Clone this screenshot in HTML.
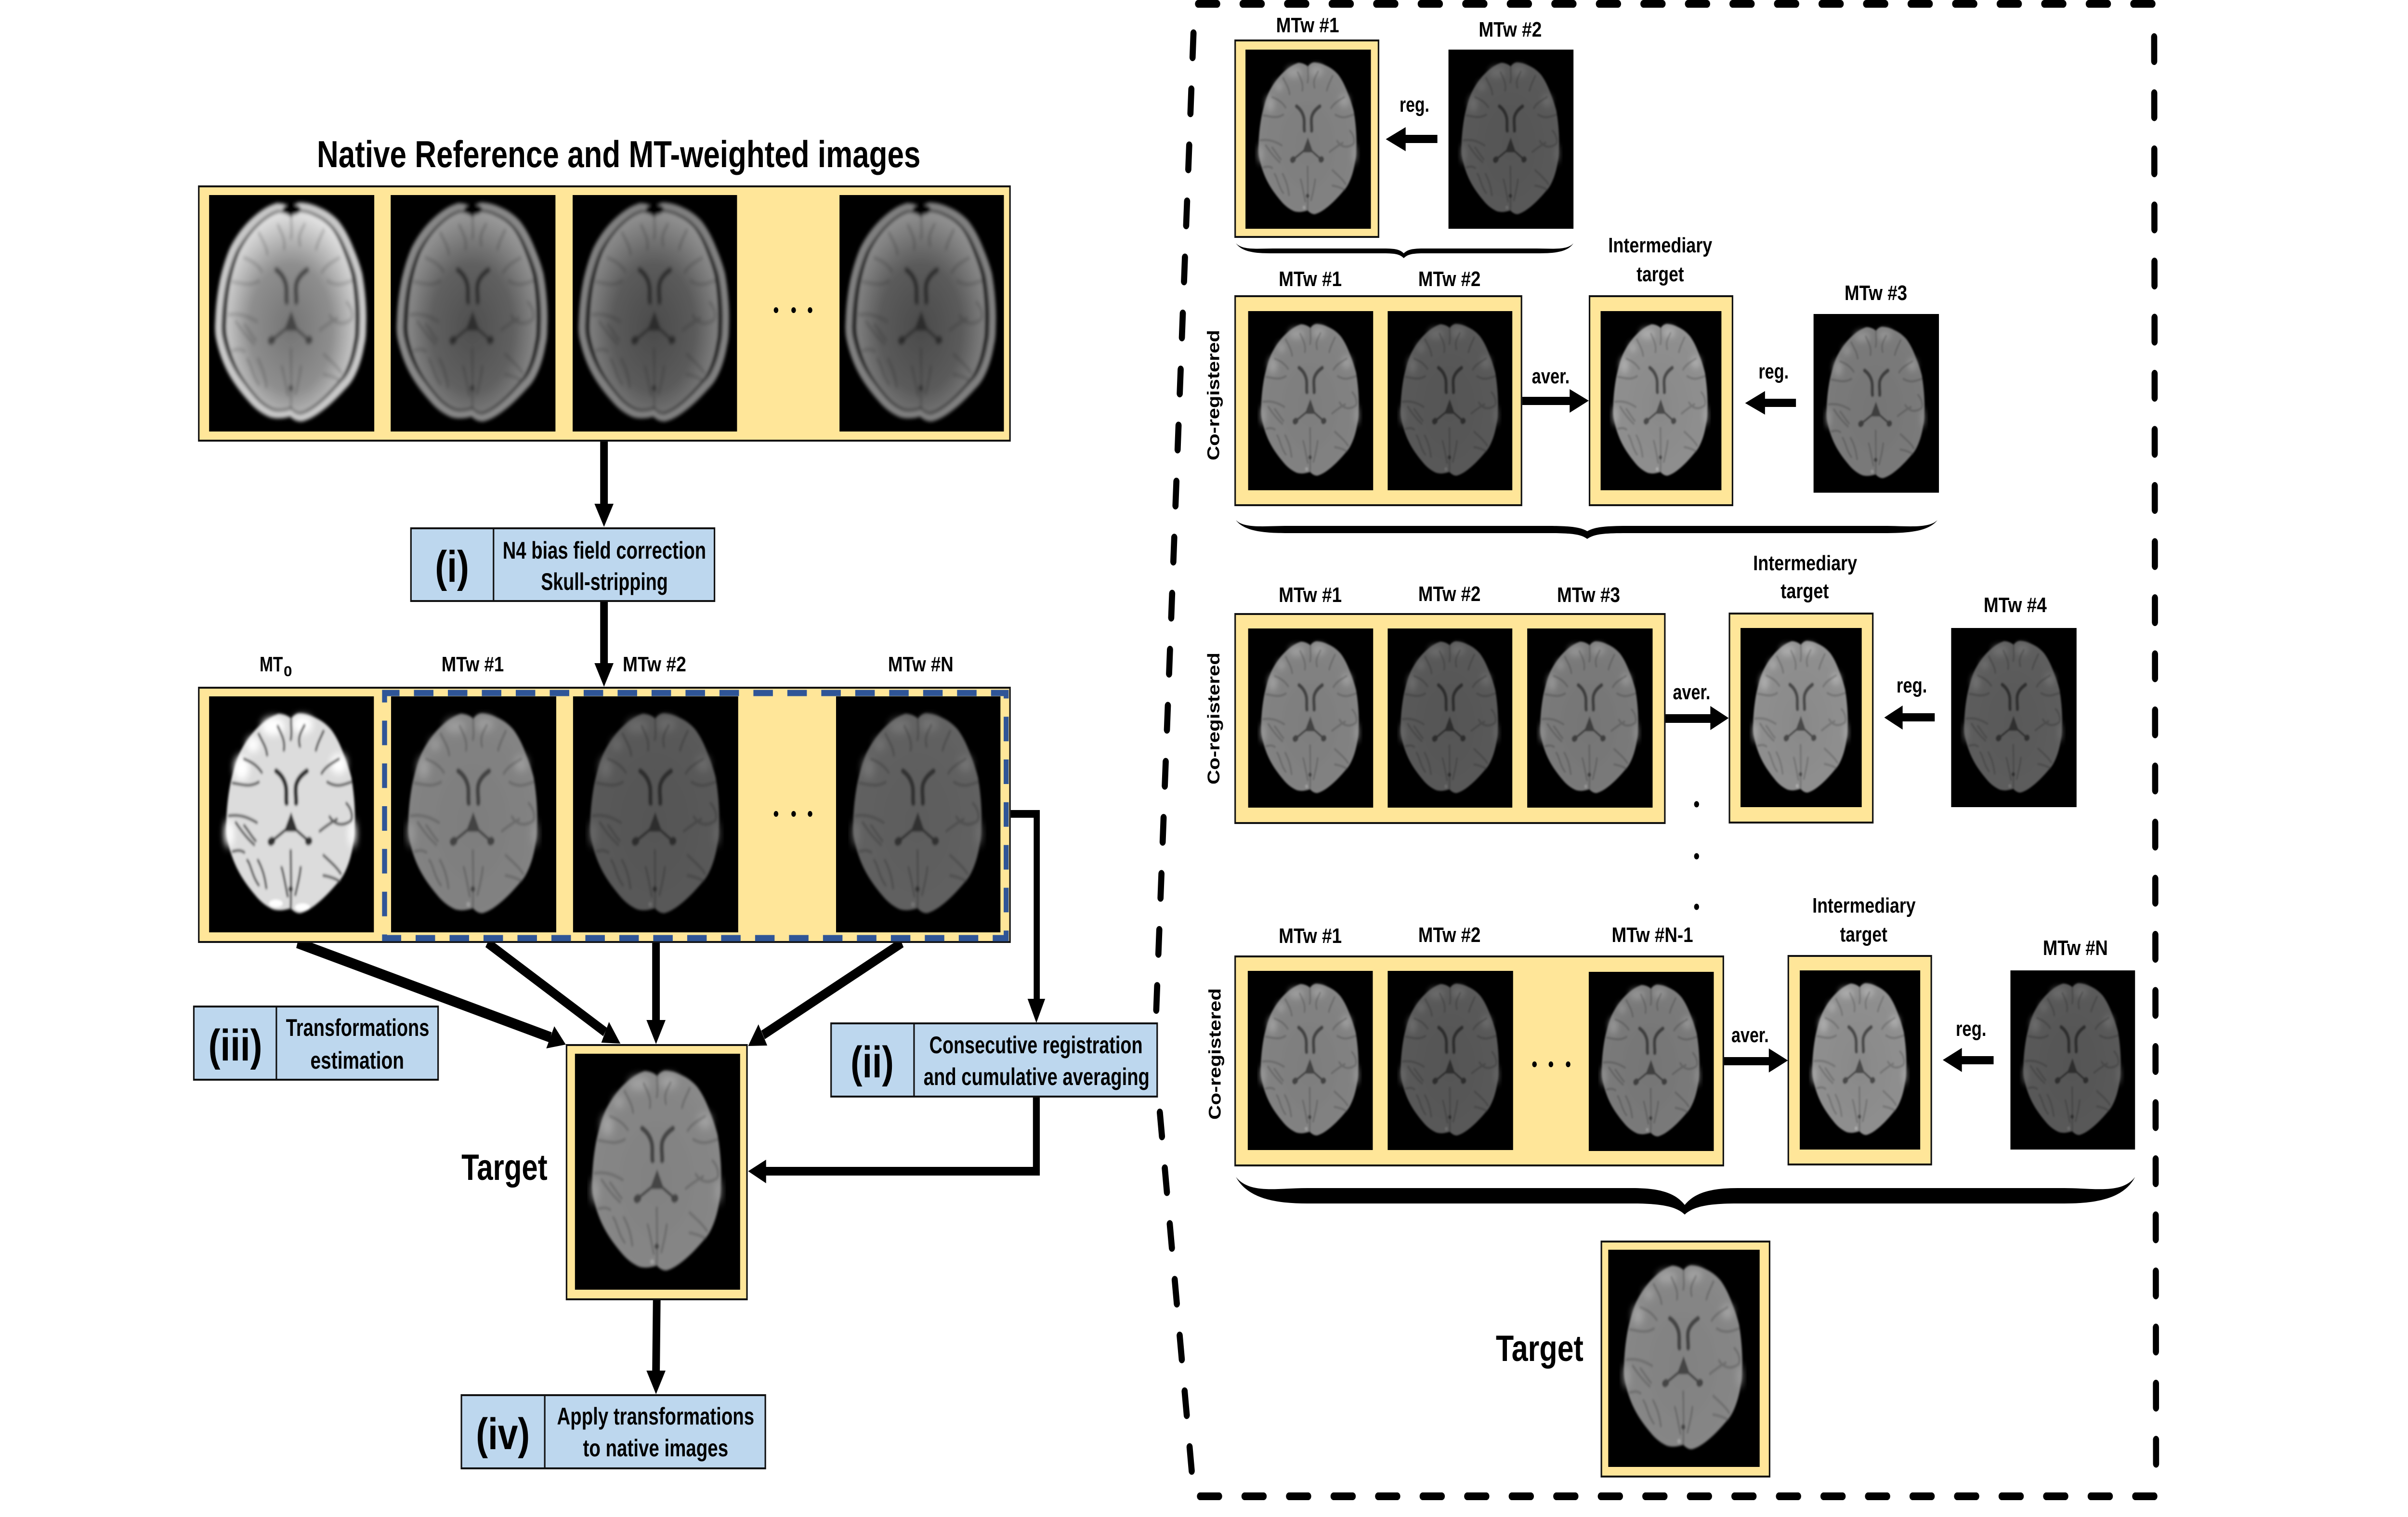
<!DOCTYPE html>
<html>
<head>
<meta charset="utf-8">
<style>
html,body{margin:0;padding:0;background:#fff;width:100%;height:100%;overflow:hidden}
svg{display:block;width:100vw;height:100vh}
text{font-family:"Liberation Sans",sans-serif;font-weight:bold;fill:#000;font-size:44px}
.t52{font-size:50px}
.p{font-size:92px}
.f{fill:#FFE699;stroke:#111;stroke-width:4}
.b{fill:#BDD7EE;stroke:#111;stroke-width:4}
.d{stroke:#111;stroke-width:4}
</style>
</head>
<body>
<svg viewBox="0 0 6299 3150" preserveAspectRatio="none" xmlns="http://www.w3.org/2000/svg">
<defs>
<filter id="bl" x="-10%" y="-10%" width="120%" height="120%"><feGaussianBlur stdDeviation="2.6"/></filter>
<filter id="bl2" x="-30%" y="-30%" width="160%" height="160%"><feGaussianBlur stdDeviation="9"/></filter>
<filter id="bl3" x="-10%" y="-10%" width="120%" height="120%"><feGaussianBlur stdDeviation="4"/></filter>
<radialGradient id="gb" cx=".5" cy=".55" r=".6"><stop offset="0" stop-color="#cacaca"/><stop offset=".75" stop-color="#d2d2d2"/><stop offset="1" stop-color="#dadada"/></radialGradient>
<radialGradient id="gn" cx=".5" cy=".58" r=".58"><stop offset="0" stop-color="#747474"/><stop offset=".55" stop-color="#8e8e8e"/><stop offset="1" stop-color="#e2e2e2"/></radialGradient>
<path id="out" d="M215 46C222 38 232 34 240 35C255 36 266 39 278 44C295 50 308 58 320 69C335 85 345 103 354 122C362 138 368 152 373 168C380 200 384 240 382 272C382 285 381 296 378 306C374 326 368 344 359 360C353 371 346 380 337 387C322 401 307 414 291 425C275 436 258 446 240 450C230 451 221 446 214 440C198 444 182 446 167 442C150 436 134 426 121 413C104 397 88 380 75 360C62 340 52 316 46 291C44 280 44 270 45 260C46 232 50 205 56 180C62 158 69 138 79 119C92 98 110 77 132 61C148 49 165 40 182 36C195 36 207 40 215 46Z"/>
<g id="sul" fill="none" stroke="#333" stroke-width="6" stroke-linecap="round">
<path d="M215 48C214 60 218 75 214 90M180 62C190 80 200 92 196 112M250 60C240 76 232 84 238 104"/>
<path d="M130 78C140 95 150 105 152 122M300 72C290 90 284 98 280 112M92 130C110 136 125 142 138 158M340 130C320 140 305 146 295 160"/>
<path d="M62 180C85 182 105 190 130 178M372 178C350 184 335 190 310 178"/>
<path d="M52 248C80 245 100 250 125 262M70 262C85 280 100 295 118 308M92 268C104 280 112 292 122 300"/>
<path d="M316 250C330 268 352 270 372 258C378 248 372 232 360 222M290 280C305 270 320 262 335 255"/>
<path d="M62 322C72 320 82 318 92 324M100 340C110 350 112 372 130 392M128 340C138 355 146 372 150 398"/>
<path d="M300 330C320 345 335 355 345 368M300 372C315 374 330 378 342 384"/>
<path d="M214 320C214 350 216 380 214 440M190 355C196 370 200 392 206 415M240 355C238 372 232 392 226 412"/>
</g>
<g id="ven">
<g fill="none" stroke="currentColor" stroke-linecap="round">
<path stroke-width="11" d="M176 155C188 162 197 172 201 186C204 198 201 210 203 222"/>
<path stroke-width="11" d="M256 155C244 162 233 170 228 184C225 198 229 210 228 222"/>
<path stroke-width="6" d="M165 300C178 292 190 284 202 276M261 300C248 292 238 284 226 276"/>
<path stroke-width="17" d="M162 302L165 300M262 300L260 301"/>
</g>
<path d="M215 240L196 281L233 281Z" fill="currentColor"/>
<circle cx="214" cy="400" r="6" fill="currentColor"/>
</g>
<g id="pat" filter="url(#bl2)" fill="#fff">
<ellipse cx="168" cy="62" rx="28" ry="14"/><ellipse cx="245" cy="58" rx="24" ry="14"/>
<ellipse cx="115" cy="100" rx="14" ry="12"/><ellipse cx="85" cy="148" rx="16" ry="22"/><ellipse cx="340" cy="140" rx="18" ry="16"/>
<ellipse cx="52" cy="285" rx="8" ry="26"/><ellipse cx="376" cy="285" rx="6" ry="26"/>
</g>
<symbol id="m0" viewBox="0 0 432 490" preserveAspectRatio="none">
<g filter="url(#bl)" style="color:#303030">
<use href="#out" fill="#dcdcdc"/>
<use href="#pat"/><use href="#pat"/>
<ellipse cx="175" cy="430" rx="18" ry="8" fill="#fff"/><ellipse cx="245" cy="438" rx="20" ry="8" fill="#fff"/>
<g opacity=".75"><use href="#sul"/></g>
<use href="#ven"/>
</g>
</symbol>
<symbol id="m" viewBox="0 0 432 490" preserveAspectRatio="none">
<g filter="url(#bl)" style="color:#6c6c6c">
<use href="#out" fill="url(#gb)"/>
<use href="#pat"/>
<g opacity=".22"><use href="#sul"/></g>
<use href="#ven"/>
<circle cx="202" cy="432" r="5" fill="#fff"/>
</g>
</symbol>
<symbol id="n" viewBox="0 0 432 490" preserveAspectRatio="none">
<g filter="url(#bl3)" style="color:#444">
<g transform="translate(214 245) scale(1.115 1.05) translate(-214 -245)"><use href="#out" fill="none" stroke="#c8c8c8" stroke-width="17"/></g>
<g transform="translate(214 245) scale(1.04 1.02) translate(-214 -245)"><use href="#out" fill="#060606"/></g>
<use href="#out" fill="url(#gn)"/>
<g opacity=".25"><use href="#sul"/></g>
<use href="#ven"/>
<ellipse cx="216" cy="30" rx="24" ry="11" fill="#000"/>
</g>
</symbol>
</defs>

<rect width="6299" height="3150" fill="#fff"/>

<!-- big dashed frame -->
<g fill="none" stroke="#000" stroke-width="16" stroke-linecap="round" stroke-dasharray="50 66.5">
<path d="M3134 8H5640"/>
<path d="M3139 3107H5648"/>
<path d="M5635 77L5640 3060"/>
<path d="M3122 69L3024 2110"/>
<path d="M3034 2310L3118 3060"/>
</g>

<!-- left arrows -->
<g stroke="#000" fill="none">
<path d="M1580 916V1050" stroke-width="20"/>
<path d="M1580 1250V1380" stroke-width="20"/>
<path d="M778 1958L1440 2154" stroke-width="22"/>
<path d="M1275 1958L1583 2143" stroke-width="20"/>
<path d="M1716 1958V2122" stroke-width="20"/>
<path d="M2359 1958L1996 2149" stroke-width="20"/>
<path d="M1718 2699L1716 2850" stroke-width="20"/>
<path d="M2644 1690H2712V2074" stroke-width="16"/>
<path d="M2711 2279V2432H2000" stroke-width="18"/>
</g>
<g fill="#000">
<polygon points="1555,1046 1605,1046 1580,1094"/>
<polygon points="1555,1377 1605,1377 1580,1426"/>
<polygon points="1429,2177 1450,2131 1480,2169"/>
<polygon points="1573,2165 1593,2122 1623,2167"/>
<polygon points="1691,2118 1741,2118 1716,2168"/>
<polygon points="2007,2171 1984,2127 1957,2172"/>
<polygon points="1691,2846 1741,2846 1716,2895"/>
<polygon points="2688,2074 2734,2074 2711,2124"/>
<polygon points="2004,2408 2004,2457 1957,2432"/>
</g>

<!-- left frames -->
<rect class="f" x="520" y="387" width="2122" height="528"/>
<rect class="f" x="520" y="1428" width="2122" height="528"/>
<rect class="f" x="1482" y="2170" width="472" height="528"/>

<rect x="547" y="405" width="432" height="491"/><use href="#n" x="547" y="405" width="432" height="491"/>
<rect x="1022" y="405" width="431" height="491"/><use href="#n" x="1022" y="405" width="431" height="491" opacity=".68"/>
<rect x="1498" y="405" width="430" height="491"/><use href="#n" x="1498" y="405" width="430" height="491" opacity=".64"/>
<rect x="2196" y="405" width="430" height="491"/><use href="#n" x="2196" y="405" width="430" height="491" opacity=".64"/>

<rect x="547" y="1446" width="431" height="490"/><use href="#m0" x="547" y="1446" width="431" height="490"/>
<rect x="1023" y="1446" width="432" height="490"/><use href="#m" x="1023" y="1446" width="432" height="490" opacity=".62"/>
<rect x="1499" y="1446" width="432" height="490"/><use href="#m" x="1499" y="1446" width="432" height="490" opacity=".42"/>
<rect x="2187" y="1446" width="430" height="490"/><use href="#m" x="2187" y="1446" width="430" height="490" opacity=".46"/>
<rect x="1504" y="2188" width="432" height="490"/><use href="#m" x="1504" y="2188" width="432" height="490" opacity=".64"/>

<g fill="#000">
<circle cx="2030" cy="644" r="6"/><circle cx="2076" cy="644" r="6"/><circle cx="2119" cy="644" r="6"/>
<circle cx="2030" cy="1690" r="6"/><circle cx="2076" cy="1690" r="6"/><circle cx="2119" cy="1690" r="6"/>
</g>

<rect x="1006" y="1439" width="1626" height="509" fill="none" stroke="#2F5597" stroke-width="13" stroke-dasharray="51 37.8" stroke-dashoffset="12"/>

<!-- left text -->
<text x="829" y="347" style="font-size:78px" textLength="1579" lengthAdjust="spacingAndGlyphs">Native Reference and MT-weighted images</text>
<text x="679" y="1394" textLength="61" lengthAdjust="spacingAndGlyphs">MT</text>
<text x="742" y="1404" style="font-size:30px" textLength="22" lengthAdjust="spacingAndGlyphs">0</text>
<text x="1155" y="1394" textLength="163" lengthAdjust="spacingAndGlyphs">MTw #1</text>
<text x="1629" y="1394" textLength="166" lengthAdjust="spacingAndGlyphs">MTw #2</text>
<text x="2323" y="1394" textLength="171" lengthAdjust="spacingAndGlyphs">MTw #N</text>
<text x="1207" y="2450" style="font-size:76px" textLength="225" lengthAdjust="spacingAndGlyphs">Target</text>

<!-- label boxes -->
<rect class="b" x="1075" y="1097" width="794" height="151"/><path class="d" d="M1291 1097V1248"/>
<text class="p" x="1138" y="1208" textLength="89" lengthAdjust="spacingAndGlyphs">(i)</text>
<text class="t52" x="1315" y="1160" textLength="532" lengthAdjust="spacingAndGlyphs">N4 bias field correction</text>
<text class="t52" x="1415" y="1225" textLength="332" lengthAdjust="spacingAndGlyphs">Skull-stripping</text>

<rect class="b" x="2174" y="2125" width="853" height="152"/><path class="d" d="M2391 2125V2277"/>
<text class="p" x="2225" y="2237" textLength="113" lengthAdjust="spacingAndGlyphs">(ii)</text>
<text class="t52" x="2431" y="2187" textLength="558" lengthAdjust="spacingAndGlyphs">Consecutive registration</text>
<text class="t52" x="2416" y="2253" textLength="591" lengthAdjust="spacingAndGlyphs">and cumulative averaging</text>

<rect class="b" x="507" y="2090" width="639" height="152"/><path class="d" d="M723 2090V2242"/>
<text class="p" x="545" y="2202" textLength="141" lengthAdjust="spacingAndGlyphs">(iii)</text>
<text class="t52" x="748" y="2151" textLength="375" lengthAdjust="spacingAndGlyphs">Transformations</text>
<text class="t52" x="812" y="2219" textLength="245" lengthAdjust="spacingAndGlyphs">estimation</text>

<rect class="b" x="1207" y="2897" width="795" height="152"/><path class="d" d="M1425 2897V3049"/>
<text class="p" x="1245" y="3009" textLength="141" lengthAdjust="spacingAndGlyphs">(iv)</text>
<text class="t52" x="1457" y="2958" textLength="516" lengthAdjust="spacingAndGlyphs">Apply transformations</text>
<text class="t52" x="1525" y="3024" textLength="380" lengthAdjust="spacingAndGlyphs">to native images</text>

<!-- right row 1 -->
<rect class="f" x="3231" y="84" width="375" height="408"/>
<rect x="3258" y="103" width="328" height="372"/><use href="#m" x="3258" y="103" width="328" height="372" opacity=".62"/>
<rect x="3789" y="103" width="327" height="372"/><use href="#m" x="3789" y="103" width="327" height="372" opacity=".42"/>
<text x="3338" y="67" textLength="165" lengthAdjust="spacingAndGlyphs">MTw #1</text>
<text x="3868" y="76" textLength="165" lengthAdjust="spacingAndGlyphs">MTw #2</text>
<text x="3661" y="232" textLength="78" lengthAdjust="spacingAndGlyphs">reg.</text>
<polygon points="3760,280 3677,280 3677,264 3625,289 3677,314 3677,297 3760,297"/>
<path d="M3233 505C3250 520 3290 516 3330 516L3620 516C3650 516 3662 518 3672 526C3682 518 3695 516 3725 516L4020 516C4060 516 4100 520 4116 505C4100 525 4060 526 4020 526L3725 526C3695 526 3682 528 3672 536C3662 528 3650 526 3620 526L3330 526C3290 526 3250 525 3233 505Z"/>

<!-- right row 2 -->
<rect class="f" x="3231" y="615" width="749" height="434"/>
<rect x="3265" y="646" width="327" height="372"/><use href="#m" x="3265" y="646" width="327" height="372" opacity=".62"/>
<rect x="3630" y="646" width="326" height="372"/><use href="#m" x="3630" y="646" width="326" height="372" opacity=".42"/>
<rect class="f" x="4158" y="615" width="374" height="434"/>
<rect x="4187" y="646" width="316" height="372"/><use href="#m" x="4187" y="646" width="316" height="372" opacity=".68"/>
<rect x="4744" y="652" width="328" height="371"/><use href="#m" x="4744" y="652" width="328" height="371" opacity=".58"/>
<text x="3345" y="594" textLength="165" lengthAdjust="spacingAndGlyphs">MTw #1</text>
<text x="3710" y="594" textLength="163" lengthAdjust="spacingAndGlyphs">MTw #2</text>
<text x="4207" y="524" textLength="272" lengthAdjust="spacingAndGlyphs">Intermediary</text>
<text x="4281" y="584" textLength="124" lengthAdjust="spacingAndGlyphs">target</text>
<text x="4825" y="623" textLength="164" lengthAdjust="spacingAndGlyphs">MTw #3</text>
<text x="4007" y="796" textLength="99" lengthAdjust="spacingAndGlyphs">aver.</text>
<text x="4600" y="786" textLength="79" lengthAdjust="spacingAndGlyphs">reg.</text>
<polygon points="3982,824 4106,824 4106,808 4156,832 4106,857 4106,841 3982,841"/>
<polygon points="4698,828 4617,828 4617,812 4565,837 4617,861 4617,845 4698,845"/>
<text transform="translate(3189,956) rotate(-90)" textLength="271" lengthAdjust="spacingAndGlyphs">Co-registered</text>
<path d="M3233 1080C3255 1098 3310 1092 3370 1092L4050 1092C4110 1092 4135 1095 4152 1103C4170 1095 4195 1092 4255 1092L4930 1092C4990 1092 5045 1098 5068 1080C5045 1104 4990 1107 4930 1107L4255 1107C4195 1107 4170 1109 4152 1119C4135 1109 4110 1107 4050 1107L3370 1107C3310 1107 3255 1104 3233 1080Z"/>

<!-- right row 3 -->
<rect class="f" x="3231" y="1275" width="1124" height="434"/>
<rect x="3265" y="1305" width="327" height="372"/><use href="#m" x="3265" y="1305" width="327" height="372" opacity=".62"/>
<rect x="3630" y="1305" width="326" height="372"/><use href="#m" x="3630" y="1305" width="326" height="372" opacity=".42"/>
<rect x="3995" y="1305" width="328" height="372"/><use href="#m" x="3995" y="1305" width="328" height="372" opacity=".58"/>
<rect class="f" x="4524" y="1274" width="375" height="434"/>
<rect x="4553" y="1304" width="317" height="372"/><use href="#m" x="4553" y="1304" width="317" height="372" opacity=".68"/>
<rect x="5104" y="1304" width="328" height="372"/><use href="#m" x="5104" y="1304" width="328" height="372" opacity=".44"/>
<text x="3345" y="1250" textLength="165" lengthAdjust="spacingAndGlyphs">MTw #1</text>
<text x="3710" y="1248" textLength="163" lengthAdjust="spacingAndGlyphs">MTw #2</text>
<text x="4073" y="1250" textLength="165" lengthAdjust="spacingAndGlyphs">MTw #3</text>
<text x="4586" y="1184" textLength="272" lengthAdjust="spacingAndGlyphs">Intermediary</text>
<text x="4658" y="1242" textLength="126" lengthAdjust="spacingAndGlyphs">target</text>
<text x="5189" y="1271" textLength="165" lengthAdjust="spacingAndGlyphs">MTw #4</text>
<text x="4376" y="1452" textLength="98" lengthAdjust="spacingAndGlyphs">aver.</text>
<text x="4961" y="1438" textLength="80" lengthAdjust="spacingAndGlyphs">reg.</text>
<polygon points="4357,1483 4474,1483 4474,1466 4522,1491 4474,1516 4474,1501 4357,1501"/>
<polygon points="5061,1481 4977,1481 4977,1465 4929,1490 4977,1515 4977,1498 5061,1498"/>
<text transform="translate(3190,1629) rotate(-90)" textLength="274" lengthAdjust="spacingAndGlyphs">Co-registered</text>
<g fill="#000"><circle cx="4438" cy="1670" r="6.5"/><circle cx="4438" cy="1778" r="6.5"/><circle cx="4438" cy="1883" r="6.5"/></g>

<!-- right row 4 -->
<rect class="f" x="3231" y="1986" width="1277" height="434"/>
<rect x="3264" y="2016" width="327" height="372"/><use href="#m" x="3264" y="2016" width="327" height="372" opacity=".62"/>
<rect x="3630" y="2016" width="328" height="372"/><use href="#m" x="3630" y="2016" width="328" height="372" opacity=".42"/>
<rect x="4156" y="2018" width="327" height="372"/><use href="#m" x="4156" y="2018" width="327" height="372" opacity=".58"/>
<rect class="f" x="4678" y="1985" width="374" height="433"/>
<rect x="4708" y="2015" width="315" height="372"/><use href="#m" x="4708" y="2015" width="315" height="372" opacity=".68"/>
<rect x="5259" y="2015" width="326" height="372"/><use href="#m" x="5259" y="2015" width="326" height="372" opacity=".42"/>
<g fill="#000"><circle cx="4014" cy="2210" r="6"/><circle cx="4057" cy="2210" r="6"/><circle cx="4102" cy="2210" r="6"/></g>
<text x="3345" y="1958" textLength="165" lengthAdjust="spacingAndGlyphs">MTw #1</text>
<text x="3710" y="1956" textLength="163" lengthAdjust="spacingAndGlyphs">MTw #2</text>
<text x="4216" y="1956" textLength="213" lengthAdjust="spacingAndGlyphs">MTw #N-1</text>
<text x="4741" y="1895" textLength="270" lengthAdjust="spacingAndGlyphs">Intermediary</text>
<text x="4813" y="1955" textLength="124" lengthAdjust="spacingAndGlyphs">target</text>
<text x="5344" y="1983" textLength="170" lengthAdjust="spacingAndGlyphs">MTw #N</text>
<text x="4529" y="2164" textLength="98" lengthAdjust="spacingAndGlyphs">aver.</text>
<text x="5116" y="2151" textLength="80" lengthAdjust="spacingAndGlyphs">reg.</text>
<polygon points="4510,2195 4627,2195 4627,2177 4677,2202 4627,2227 4627,2212 4510,2212"/>
<polygon points="5215,2193 5132,2193 5132,2176 5082,2201 5132,2226 5132,2210 5215,2210"/>
<text transform="translate(3193,2325) rotate(-90)" textLength="273" lengthAdjust="spacingAndGlyphs">Co-registered</text>
<path d="M3233 2444C3270 2480 3340 2467 3420 2467L4270 2467C4350 2467 4385 2480 4407 2502C4430 2480 4465 2467 4545 2467L5400 2467C5480 2467 5550 2480 5585 2444C5555 2490 5480 2499 5400 2499L4545 2499C4470 2499 4430 2505 4407 2522C4385 2505 4345 2499 4270 2499L3420 2499C3340 2499 3265 2490 3233 2444Z"/>

<!-- right target -->
<rect class="f" x="4189" y="2578" width="440" height="488"/>
<rect x="4207" y="2595" width="396" height="451"/><use href="#m" x="4207" y="2595" width="396" height="451" opacity=".64"/>
<text x="3913" y="2826" style="font-size:76px" textLength="229" lengthAdjust="spacingAndGlyphs">Target</text>
</svg>
</body>
</html>
